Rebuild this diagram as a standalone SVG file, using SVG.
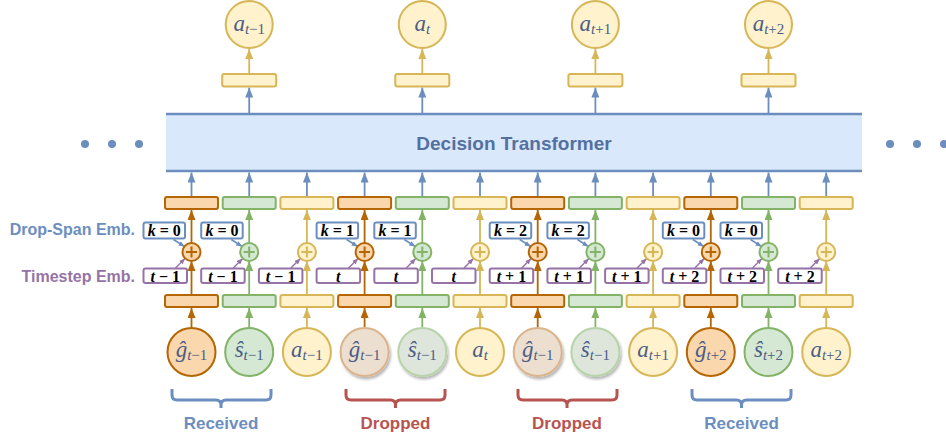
<svg xmlns="http://www.w3.org/2000/svg" width="946" height="438" viewBox="0 0 946 438">
<style>
.bo{fill:#fad7ac;stroke:#b46504;stroke-width:2}
.bg{fill:#d5e8d4;stroke:#82b366;stroke-width:2}
.by{fill:#fff2cc;stroke:#d6b656;stroke-width:2}
.dgo{fill:#ecdfcf;stroke:#dbb48c;stroke-width:2}
.dgg{fill:#dee6dc;stroke:#b7d4a8;stroke-width:2}
.kb{fill:#fff;stroke:#6c8ebf;stroke-width:2}
.tb{fill:#fff;stroke:#9673a6;stroke-width:2}
.lbl{font-family:"Liberation Serif","Times New Roman",serif;font-weight:bold;font-size:16px;fill:#000;text-anchor:middle}
.math{font-family:"Liberation Serif","Times New Roman",serif;font-size:23px;fill:#4b5d87;text-anchor:middle}
.sub{font-size:15px}
.it{font-style:italic}
.side{font-family:"Liberation Sans",Arial,sans-serif;font-weight:bold;font-size:16px;text-anchor:end}
.br{fill:none;stroke-width:3;stroke-linejoin:round}
.brt{font-family:"Liberation Sans",Arial,sans-serif;font-weight:bold;font-size:17px;text-anchor:middle}
.ao{stroke:#b46504;stroke-width:1.8;fill:none;marker-end:url(#mo)}
.ag{stroke:#82b366;stroke-width:1.8;fill:none;marker-end:url(#mg)}
.ay{stroke:#d6b656;stroke-width:1.8;fill:none;marker-end:url(#my)}
.ab{stroke:#6c8ebf;stroke-width:1.8;fill:none;marker-end:url(#mb)}
.abs{stroke:#6c8ebf;stroke-width:1.5;fill:none;marker-end:url(#mbs)}
.aps{stroke:#9673a6;stroke-width:1.5;fill:none;marker-end:url(#mps)}
.pl{stroke-width:2;fill:none}
</style>
<defs>
<marker id="mo" viewBox="0 0 10 8" refX="10" refY="4" markerWidth="10" markerHeight="8" markerUnits="userSpaceOnUse" orient="auto"><path d="M0,0L10,4L0,8z" fill="#b46504"/></marker>
<marker id="mg" viewBox="0 0 10 8" refX="10" refY="4" markerWidth="10" markerHeight="8" markerUnits="userSpaceOnUse" orient="auto"><path d="M0,0L10,4L0,8z" fill="#82b366"/></marker>
<marker id="my" viewBox="0 0 10 8" refX="10" refY="4" markerWidth="10" markerHeight="8" markerUnits="userSpaceOnUse" orient="auto"><path d="M0,0L10,4L0,8z" fill="#d6b656"/></marker>
<marker id="mb" viewBox="0 0 10 8" refX="10" refY="4" markerWidth="10" markerHeight="8" markerUnits="userSpaceOnUse" orient="auto"><path d="M0,0L10,4L0,8z" fill="#6c8ebf"/></marker>
<marker id="mbs" viewBox="0 0 6 5" refX="6" refY="2.5" markerWidth="6" markerHeight="5" markerUnits="userSpaceOnUse" orient="auto"><path d="M0,0L6,2.5L0,5z" fill="#6c8ebf"/></marker>
<marker id="mps" viewBox="0 0 6 5" refX="6" refY="2.5" markerWidth="6" markerHeight="5" markerUnits="userSpaceOnUse" orient="auto"><path d="M0,0L6,2.5L0,5z" fill="#9673a6"/></marker>
<filter id="sh" x="-30%" y="-30%" width="160%" height="160%"><feDropShadow dx="1.5" dy="2.5" stdDeviation="1.3" flood-color="#000" flood-opacity="0.28"/></filter>
</defs>

<g id="connectors">
<line class="ab" x1="249.2" y1="113" x2="249.2" y2="87.5"/>
<line class="ab" x1="422.3" y1="113" x2="422.3" y2="87.5"/>
<line class="ab" x1="595.4" y1="113" x2="595.4" y2="87.5"/>
<line class="ab" x1="768.5" y1="113" x2="768.5" y2="87.5"/>
<line class="ay" x1="249.2" y1="73" x2="249.2" y2="49"/>
<line class="ay" x1="422.3" y1="73" x2="422.3" y2="49"/>
<line class="ay" x1="595.4" y1="73" x2="595.4" y2="49"/>
<line class="ay" x1="768.5" y1="73" x2="768.5" y2="49"/>
<line class="ab" x1="191.5" y1="196" x2="191.5" y2="172.5"/>
<line class="ab" x1="249.2" y1="196" x2="249.2" y2="172.5"/>
<line class="ab" x1="306.9" y1="196" x2="306.9" y2="172.5"/>
<line class="ab" x1="364.6" y1="196" x2="364.6" y2="172.5"/>
<line class="ab" x1="422.3" y1="196" x2="422.3" y2="172.5"/>
<line class="ab" x1="480" y1="196" x2="480" y2="172.5"/>
<line class="ab" x1="537.7" y1="196" x2="537.7" y2="172.5"/>
<line class="ab" x1="595.4" y1="196" x2="595.4" y2="172.5"/>
<line class="ab" x1="653.1" y1="196" x2="653.1" y2="172.5"/>
<line class="ab" x1="710.8" y1="196" x2="710.8" y2="172.5"/>
<line class="ab" x1="768.5" y1="196" x2="768.5" y2="172.5"/>
<line class="ab" x1="826.2" y1="196" x2="826.2" y2="172.5"/>
<line class="ao" x1="191.5" y1="243" x2="191.5" y2="210"/>
<line class="ag" x1="249.2" y1="243" x2="249.2" y2="210"/>
<line class="ay" x1="306.9" y1="243" x2="306.9" y2="210"/>
<line class="ao" x1="364.6" y1="243" x2="364.6" y2="210"/>
<line class="ag" x1="422.3" y1="243" x2="422.3" y2="210"/>
<line class="ay" x1="480" y1="243" x2="480" y2="210"/>
<line class="ao" x1="537.7" y1="243" x2="537.7" y2="210"/>
<line class="ag" x1="595.4" y1="243" x2="595.4" y2="210"/>
<line class="ay" x1="653.1" y1="243" x2="653.1" y2="210"/>
<line class="ao" x1="710.8" y1="243" x2="710.8" y2="210"/>
<line class="ag" x1="768.5" y1="243" x2="768.5" y2="210"/>
<line class="ay" x1="826.2" y1="243" x2="826.2" y2="210"/>
<line class="ao" x1="191.5" y1="294" x2="191.5" y2="261"/>
<line class="ag" x1="249.2" y1="294" x2="249.2" y2="261"/>
<line class="ay" x1="306.9" y1="294" x2="306.9" y2="261"/>
<line class="ao" x1="364.6" y1="294" x2="364.6" y2="261"/>
<line class="ag" x1="422.3" y1="294" x2="422.3" y2="261"/>
<line class="ay" x1="480" y1="294" x2="480" y2="261"/>
<line class="ao" x1="537.7" y1="294" x2="537.7" y2="261"/>
<line class="ag" x1="595.4" y1="294" x2="595.4" y2="261"/>
<line class="ay" x1="653.1" y1="294" x2="653.1" y2="261"/>
<line class="ao" x1="710.8" y1="294" x2="710.8" y2="261"/>
<line class="ag" x1="768.5" y1="294" x2="768.5" y2="261"/>
<line class="ay" x1="826.2" y1="294" x2="826.2" y2="261"/>
<line class="ao" x1="191.5" y1="327" x2="191.5" y2="308"/>
<line class="ag" x1="249.2" y1="327" x2="249.2" y2="308"/>
<line class="ay" x1="306.9" y1="327" x2="306.9" y2="308"/>
<line class="ao" x1="364.6" y1="327" x2="364.6" y2="308"/>
<line class="ag" x1="422.3" y1="327" x2="422.3" y2="308"/>
<line class="ay" x1="480" y1="327" x2="480" y2="308"/>
<line class="ao" x1="537.7" y1="327" x2="537.7" y2="308"/>
<line class="ag" x1="595.4" y1="327" x2="595.4" y2="308"/>
<line class="ay" x1="653.1" y1="327" x2="653.1" y2="308"/>
<line class="ao" x1="710.8" y1="327" x2="710.8" y2="308"/>
<line class="ag" x1="768.5" y1="327" x2="768.5" y2="308"/>
<line class="ay" x1="826.2" y1="327" x2="826.2" y2="308"/>
<line class="abs" x1="173.5" y1="239.5" x2="184.5" y2="246.5"/>
<line class="abs" x1="231.2" y1="239.5" x2="242.2" y2="246.5"/>
<line class="abs" x1="346.6" y1="239.5" x2="357.6" y2="246.5"/>
<line class="abs" x1="404.3" y1="239.5" x2="415.3" y2="246.5"/>
<line class="abs" x1="519.7" y1="239.5" x2="530.7" y2="246.5"/>
<line class="abs" x1="577.4" y1="239.5" x2="588.4" y2="246.5"/>
<line class="abs" x1="692.8" y1="239.5" x2="703.8" y2="246.5"/>
<line class="abs" x1="750.5" y1="239.5" x2="761.5" y2="246.5"/>
<line class="aps" x1="175.5" y1="268" x2="185" y2="258.5"/>
<line class="aps" x1="233.2" y1="268" x2="242.7" y2="258.5"/>
<line class="aps" x1="290.9" y1="268" x2="300.4" y2="258.5"/>
<line class="aps" x1="348.6" y1="268" x2="358.1" y2="258.5"/>
<line class="aps" x1="406.3" y1="268" x2="415.8" y2="258.5"/>
<line class="aps" x1="464" y1="268" x2="473.5" y2="258.5"/>
<line class="aps" x1="521.7" y1="268" x2="531.2" y2="258.5"/>
<line class="aps" x1="579.4" y1="268" x2="588.9" y2="258.5"/>
<line class="aps" x1="637.1" y1="268" x2="646.6" y2="258.5"/>
<line class="aps" x1="694.8" y1="268" x2="704.3" y2="258.5"/>
<line class="aps" x1="752.5" y1="268" x2="762" y2="258.5"/>
<line class="aps" x1="810.2" y1="268" x2="819.7" y2="258.5"/>
</g>

<g id="dots-left" fill="#6c8ebf"><circle cx="85" cy="144" r="4"/><circle cx="112" cy="144" r="4"/><circle cx="139" cy="144" r="4"/></g>
<g id="dots-right" fill="#6c8ebf"><circle cx="890" cy="144" r="4"/><circle cx="917" cy="144" r="4"/><circle cx="944" cy="144" r="4"/></g>

<g id="transformer">
<rect x="166" y="114" width="696" height="57" fill="#dae8fc"/>
<line x1="166" y1="114" x2="862" y2="114" stroke="#6c8ebf" stroke-width="2.5"/>
<line x1="166" y1="171" x2="862" y2="171" stroke="#6c8ebf" stroke-width="2.5"/>
<text x="514" y="150" font-family="'Liberation Sans',Arial,sans-serif" font-weight="bold" font-size="19" fill="#54709f" text-anchor="middle">Decision Transformer</text>
</g>

<g id="out-1"><rect class="by" x="222.2" y="74" width="54" height="12.5" rx="2"/><circle class="by" cx="249.2" cy="24.5" r="23.5"/><text class="math" x="249.2" y="31"><tspan class="it">a</tspan><tspan class="sub" dy="2.5"><tspan class="it">t</tspan>−1</tspan></text></g>
<g id="out-2"><rect class="by" x="395.3" y="74" width="54" height="12.5" rx="2"/><circle class="by" cx="422.3" cy="24.5" r="23.5"/><text class="math" x="422.3" y="31"><tspan class="it">a</tspan><tspan class="sub it" dy="2.5">t</tspan></text></g>
<g id="out-3"><rect class="by" x="568.4" y="74" width="54" height="12.5" rx="2"/><circle class="by" cx="595.4" cy="24.5" r="23.5"/><text class="math" x="595.4" y="31"><tspan class="it">a</tspan><tspan class="sub" dy="2.5"><tspan class="it">t</tspan>+1</tspan></text></g>
<g id="out-4"><rect class="by" x="741.5" y="74" width="54" height="12.5" rx="2"/><circle class="by" cx="768.5" cy="24.5" r="23.5"/><text class="math" x="768.5" y="31"><tspan class="it">a</tspan><tspan class="sub" dy="2.5"><tspan class="it">t</tspan>+2</tspan></text></g>

<g id="upper-tokens">
<rect class="bo" x="165" y="197" width="53" height="12" rx="2"/>
<rect class="bg" x="222.7" y="197" width="53" height="12" rx="2"/>
<rect class="by" x="280.4" y="197" width="53" height="12" rx="2"/>
<rect class="bo" x="338.1" y="197" width="53" height="12" rx="2"/>
<rect class="bg" x="395.8" y="197" width="53" height="12" rx="2"/>
<rect class="by" x="453.5" y="197" width="53" height="12" rx="2"/>
<rect class="bo" x="511.2" y="197" width="53" height="12" rx="2"/>
<rect class="bg" x="568.9" y="197" width="53" height="12" rx="2"/>
<rect class="by" x="626.6" y="197" width="53" height="12" rx="2"/>
<rect class="bo" x="684.3" y="197" width="53" height="12" rx="2"/>
<rect class="bg" x="742" y="197" width="53" height="12" rx="2"/>
<rect class="by" x="799.7" y="197" width="53" height="12" rx="2"/>
</g>

<g id="lower-tokens">
<rect class="bo" x="165" y="295" width="53" height="12" rx="2"/>
<rect class="bg" x="222.7" y="295" width="53" height="12" rx="2"/>
<rect class="by" x="280.4" y="295" width="53" height="12" rx="2"/>
<rect class="bo" x="338.1" y="295" width="53" height="12" rx="2"/>
<rect class="bg" x="395.8" y="295" width="53" height="12" rx="2"/>
<rect class="by" x="453.5" y="295" width="53" height="12" rx="2"/>
<rect class="bo" x="511.2" y="295" width="53" height="12" rx="2"/>
<rect class="bg" x="568.9" y="295" width="53" height="12" rx="2"/>
<rect class="by" x="626.6" y="295" width="53" height="12" rx="2"/>
<rect class="bo" x="684.3" y="295" width="53" height="12" rx="2"/>
<rect class="bg" x="742" y="295" width="53" height="12" rx="2"/>
<rect class="by" x="799.7" y="295" width="53" height="12" rx="2"/>
</g>

<g id="plus-nodes">
<g><circle class="bo" cx="191.5" cy="252" r="9"/><path class="pl" stroke="#b46504" d="M186,252H197M191.5,246.5V257.5"/></g>
<g><circle class="bg" cx="249.2" cy="252" r="9"/><path class="pl" stroke="#82b366" d="M243.7,252H254.7M249.2,246.5V257.5"/></g>
<g><circle class="by" cx="306.9" cy="252" r="9"/><path class="pl" stroke="#d6b656" d="M301.4,252H312.4M306.9,246.5V257.5"/></g>
<g><circle class="bo" cx="364.6" cy="252" r="9"/><path class="pl" stroke="#b46504" d="M359.1,252H370.1M364.6,246.5V257.5"/></g>
<g><circle class="bg" cx="422.3" cy="252" r="9"/><path class="pl" stroke="#82b366" d="M416.8,252H427.8M422.3,246.5V257.5"/></g>
<g><circle class="by" cx="480" cy="252" r="9"/><path class="pl" stroke="#d6b656" d="M474.5,252H485.5M480,246.5V257.5"/></g>
<g><circle class="bo" cx="537.7" cy="252" r="9"/><path class="pl" stroke="#b46504" d="M532.2,252H543.2M537.7,246.5V257.5"/></g>
<g><circle class="bg" cx="595.4" cy="252" r="9"/><path class="pl" stroke="#82b366" d="M589.9,252H600.9M595.4,246.5V257.5"/></g>
<g><circle class="by" cx="653.1" cy="252" r="9"/><path class="pl" stroke="#d6b656" d="M647.6,252H658.6M653.1,246.5V257.5"/></g>
<g><circle class="bo" cx="710.8" cy="252" r="9"/><path class="pl" stroke="#b46504" d="M705.3,252H716.3M710.8,246.5V257.5"/></g>
<g><circle class="bg" cx="768.5" cy="252" r="9"/><path class="pl" stroke="#82b366" d="M763,252H774M768.5,246.5V257.5"/></g>
<g><circle class="by" cx="826.2" cy="252" r="9"/><path class="pl" stroke="#d6b656" d="M820.7,252H831.7M826.2,246.5V257.5"/></g>
</g>

<g id="dropspan-emb">
<g><rect class="kb" x="143.5" y="222.5" width="41.5" height="16" rx="2"/><text class="lbl" x="164.25" y="235.5"><tspan class="it">k</tspan> = 0</text></g>
<g><rect class="kb" x="201.2" y="222.5" width="41.5" height="16" rx="2"/><text class="lbl" x="221.95" y="235.5"><tspan class="it">k</tspan> = 0</text></g>
<g><rect class="kb" x="316.6" y="222.5" width="41.5" height="16" rx="2"/><text class="lbl" x="337.35" y="235.5"><tspan class="it">k</tspan> = 1</text></g>
<g><rect class="kb" x="374.3" y="222.5" width="41.5" height="16" rx="2"/><text class="lbl" x="395.05" y="235.5"><tspan class="it">k</tspan> = 1</text></g>
<g><rect class="kb" x="489.7" y="222.5" width="41.5" height="16" rx="2"/><text class="lbl" x="510.45" y="235.5"><tspan class="it">k</tspan> = 2</text></g>
<g><rect class="kb" x="547.4" y="222.5" width="41.5" height="16" rx="2"/><text class="lbl" x="568.15" y="235.5"><tspan class="it">k</tspan> = 2</text></g>
<g><rect class="kb" x="662.8" y="222.5" width="41.5" height="16" rx="2"/><text class="lbl" x="683.55" y="235.5"><tspan class="it">k</tspan> = 0</text></g>
<g><rect class="kb" x="720.5" y="222.5" width="41.5" height="16" rx="2"/><text class="lbl" x="741.25" y="235.5"><tspan class="it">k</tspan> = 0</text></g>
</g>

<g id="timestep-emb">
<g><rect class="tb" x="143.5" y="268.5" width="43.5" height="14.5" rx="2"/><text class="lbl" x="165.25" y="281.5"><tspan class="it">t</tspan> − 1</text></g>
<g><rect class="tb" x="201.2" y="268.5" width="43.5" height="14.5" rx="2"/><text class="lbl" x="222.95" y="281.5"><tspan class="it">t</tspan> − 1</text></g>
<g><rect class="tb" x="258.9" y="268.5" width="43.5" height="14.5" rx="2"/><text class="lbl" x="280.65" y="281.5"><tspan class="it">t</tspan> − 1</text></g>
<g><rect class="tb" x="316.6" y="268.5" width="43.5" height="14.5" rx="2"/><text class="lbl it" x="338.35" y="281.5">t</text></g>
<g><rect class="tb" x="374.3" y="268.5" width="43.5" height="14.5" rx="2"/><text class="lbl it" x="396.05" y="281.5">t</text></g>
<g><rect class="tb" x="432" y="268.5" width="43.5" height="14.5" rx="2"/><text class="lbl it" x="453.75" y="281.5">t</text></g>
<g><rect class="tb" x="489.7" y="268.5" width="43.5" height="14.5" rx="2"/><text class="lbl" x="511.45" y="281.5"><tspan class="it">t</tspan> + 1</text></g>
<g><rect class="tb" x="547.4" y="268.5" width="43.5" height="14.5" rx="2"/><text class="lbl" x="569.15" y="281.5"><tspan class="it">t</tspan> + 1</text></g>
<g><rect class="tb" x="605.1" y="268.5" width="43.5" height="14.5" rx="2"/><text class="lbl" x="626.85" y="281.5"><tspan class="it">t</tspan> + 1</text></g>
<g><rect class="tb" x="662.8" y="268.5" width="43.5" height="14.5" rx="2"/><text class="lbl" x="684.55" y="281.5"><tspan class="it">t</tspan> + 2</text></g>
<g><rect class="tb" x="720.5" y="268.5" width="43.5" height="14.5" rx="2"/><text class="lbl" x="742.25" y="281.5"><tspan class="it">t</tspan> + 2</text></g>
<g><rect class="tb" x="778.2" y="268.5" width="43.5" height="14.5" rx="2"/><text class="lbl" x="799.95" y="281.5"><tspan class="it">t</tspan> + 2</text></g>
</g>

<g id="side-labels">
<text class="side" x="135" y="235" fill="#6c8ebf">Drop-Span Emb.</text>
<text class="side" x="135" y="281.5" fill="#9673a6">Timestep Emb.</text>
</g>

<g id="inputs">
<g id="in-g1"><circle class="bo" cx="191.5" cy="352" r="24"/><text class="math" x="191.5" y="357"><tspan class="it">ĝ</tspan><tspan class="sub" dy="3"><tspan class="it">t</tspan>−1</tspan></text></g>
<g id="in-s1"><circle class="bg" cx="249.2" cy="352" r="24"/><text class="math" x="249.2" y="357"><tspan class="it">ŝ</tspan><tspan class="sub" dy="3"><tspan class="it">t</tspan>−1</tspan></text></g>
<g id="in-a1"><circle class="by" cx="306.9" cy="352" r="24"/><text class="math" x="306.9" y="357"><tspan class="it">a</tspan><tspan class="sub" dy="3"><tspan class="it">t</tspan>−1</tspan></text></g>
<g id="in-g2"><circle class="dgo" filter="url(#sh)" cx="364.6" cy="352" r="24"/><text class="math" x="364.6" y="357"><tspan class="it">ĝ</tspan><tspan class="sub" dy="3"><tspan class="it">t</tspan>−1</tspan></text></g>
<g id="in-s2"><circle class="dgg" filter="url(#sh)" cx="422.3" cy="352" r="24"/><text class="math" x="422.3" y="357"><tspan class="it">ŝ</tspan><tspan class="sub" dy="3"><tspan class="it">t</tspan>−1</tspan></text></g>
<g id="in-a2"><circle class="by" cx="480" cy="352" r="24"/><text class="math" x="480" y="357"><tspan class="it">a</tspan><tspan class="sub it" dy="3">t</tspan></text></g>
<g id="in-g3"><circle class="dgo" filter="url(#sh)" cx="537.7" cy="352" r="24"/><text class="math" x="537.7" y="357"><tspan class="it">ĝ</tspan><tspan class="sub" dy="3"><tspan class="it">t</tspan>−1</tspan></text></g>
<g id="in-s3"><circle class="dgg" filter="url(#sh)" cx="595.4" cy="352" r="24"/><text class="math" x="595.4" y="357"><tspan class="it">ŝ</tspan><tspan class="sub" dy="3"><tspan class="it">t</tspan>−1</tspan></text></g>
<g id="in-a3"><circle class="by" cx="653.1" cy="352" r="24"/><text class="math" x="653.1" y="357"><tspan class="it">a</tspan><tspan class="sub" dy="3"><tspan class="it">t</tspan>+1</tspan></text></g>
<g id="in-g4"><circle class="bo" cx="710.8" cy="352" r="24"/><text class="math" x="710.8" y="357"><tspan class="it">ĝ</tspan><tspan class="sub" dy="3"><tspan class="it">t</tspan>+2</tspan></text></g>
<g id="in-s4"><circle class="bg" cx="768.5" cy="352" r="24"/><text class="math" x="768.5" y="357"><tspan class="it">ŝ</tspan><tspan class="sub" dy="3"><tspan class="it">t</tspan>+2</tspan></text></g>
<g id="in-a4"><circle class="by" cx="826.2" cy="352" r="24"/><text class="math" x="826.2" y="357"><tspan class="it">a</tspan><tspan class="sub" dy="3"><tspan class="it">t</tspan>+2</tspan></text></g>
</g>

<g id="brace-received-1"><path class="br" stroke="#6c8ebf" d="M172,389V395Q172,400 177,400H216Q221,400 221,405V408M221,405Q221,400 226,400H266Q271,400 271,395V389"/><text class="brt" x="221" y="428.5" fill="#6c8ebf">Received</text></g>
<g id="brace-dropped-1"><path class="br" stroke="#b85450" d="M346,389V395Q346,400 351,400H390.5Q395.5,400 395.5,405V408M395.5,405Q395.5,400 400.5,400H440Q445,400 445,395V389"/><text class="brt" x="395.5" y="428.5" fill="#b85450">Dropped</text></g>
<g id="brace-dropped-2"><path class="br" stroke="#b85450" d="M518,389V395Q518,400 523,400H562Q567,400 567,405V408M567,405Q567,400 572,400H612Q617,400 617,395V389"/><text class="brt" x="567" y="428.5" fill="#b85450">Dropped</text></g>
<g id="brace-received-2"><path class="br" stroke="#6c8ebf" d="M692,389V395Q692,400 697,400H736.5Q741.5,400 741.5,405V408M741.5,405Q741.5,400 746.5,400H786Q791,400 791,395V389"/><text class="brt" x="741.5" y="428.5" fill="#6c8ebf">Received</text></g>
</svg>
